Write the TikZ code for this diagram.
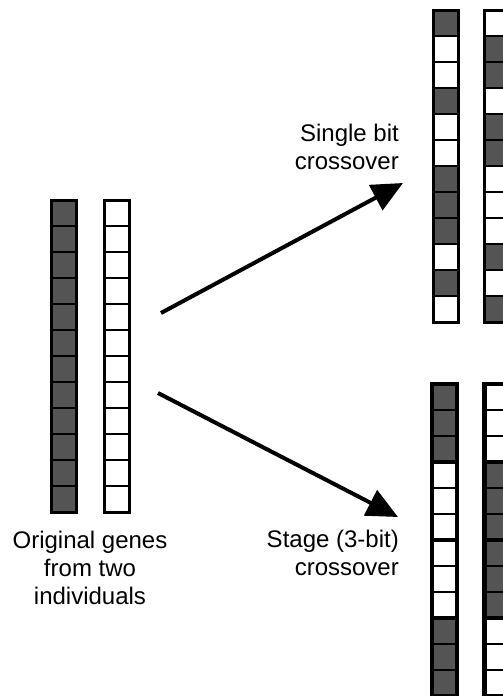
\documentclass[tikz,border=0pt]{standalone}
\usepackage{fontspec}
\setmainfont{Liberation Sans}
\usepackage{xcolor}
\usepackage{tikz}
\usetikzlibrary{arrows.meta,positioning}
\definecolor{gened}{RGB}{84,84,84}
\definecolor{genew}{RGB}{255,255,255}

\begin{document}
\begin{tikzpicture}[
    x=1pt,y=-1pt,
    cell/.style={draw=black, line width=2.4pt, minimum width=25pt, minimum height=26pt, inner sep=0pt, outer sep=0pt},
    frame/.style={draw=black, line width=3pt},
    group/.style={draw=black, line width=4.5pt},
    label/.style={font=\fontsize{24}{28}\selectfont, inner sep=0pt},
    arrow/.style={-{Triangle[length=31pt,width=28pt]}, line width=4pt}
  ]
    \useasboundingbox (0,0) rectangle (503,696);
    \clip (0,0) rectangle (503,696);
    % gene strings: d = dark, w = white
    \foreach \name/\x/\y/\pat in {
        oa/64/213/{d,d,d,d,d,d,d,d,d,d,d,d},
        ob/116.5/213/{w,w,w,w,w,w,w,w,w,w,w,w},
        sa/445.5/23/{d,w,w,d,w,w,d,d,d,w,d,w},
        sb/497/23/{w,d,d,w,d,d,w,w,w,d,w,d},
        ta/444.5/397/{d,d,d,w,w,w,w,w,w,d,d,d},
        tb/497/397/{w,w,w,d,d,d,d,d,d,w,w,w}} {
      \foreach \c [count=\i] in \pat {
        \node[cell, fill=gene\c] (\name-\i) at (\x,{\y+26*(\i-1)}) {};
      }
      \draw[frame] (\name-1.north west) rectangle (\name-12.south east);
    }
    % 3-bit blocks
    \foreach \name in {ta,tb} {
      \foreach \a/\b in {1/3,4/6,7/9,10/12} {
        \draw[group] (\name-\a.north west) rectangle (\name-\b.south east);
      }
    }
    \node[label, align=center] (orig) at (90,568) {Original genes\\from two\\individuals};
    \node[label, align=right, anchor=east] (single) at (399,147) {Single bit\\crossover};
    \node[label, align=right, anchor=east] (stage) at (399,553) {Stage (3-bit)\\crossover};
    \coordinate (upfrom) at (161,313);
    \coordinate (upto) at (403,183);
    \coordinate (downfrom) at (158,393);
    \coordinate (downto) at (398,517);
    \draw[arrow] (upfrom) -- (upto);
    \draw[arrow] (downfrom) -- (downto);
  \end{tikzpicture}
\end{document}
